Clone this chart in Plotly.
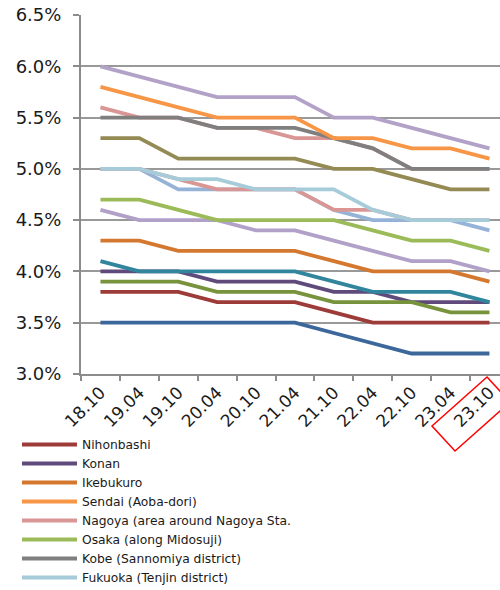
import plotly.graph_objects as go

# Survey periods (YY.MM)
periods = ["18.10", "19.04", "19.10", "20.04", "20.10", "21.04",
           "21.10", "22.04", "22.10", "23.04", "23.10"]

# Cap rates (%) by area
nihonbashi = [3.8, 3.8, 3.8, 3.7, 3.7, 3.7, 3.6, 3.5, 3.5, 3.5, 3.5]
konan      = [4.0, 4.0, 4.0, 3.9, 3.9, 3.9, 3.8, 3.8, 3.7, 3.7, 3.7]
ikebukuro  = [4.3, 4.3, 4.2, 4.2, 4.2, 4.2, 4.1, 4.0, 4.0, 4.0, 3.9]
sendai     = [5.8, 5.7, 5.6, 5.5, 5.5, 5.5, 5.3, 5.3, 5.2, 5.2, 5.1]
nagoya     = [5.6, 5.5, 5.5, 5.4, 5.4, 5.3, 5.3, 5.2, 5.0, 5.0, 5.0]
osaka      = [4.7, 4.7, 4.6, 4.5, 4.5, 4.5, 4.5, 4.4, 4.3, 4.3, 4.2]
kobe       = [5.5, 5.5, 5.5, 5.4, 5.4, 5.4, 5.3, 5.2, 5.0, 5.0, 5.0]
fukuoka    = [5.0, 5.0, 4.9, 4.9, 4.8, 4.8, 4.8, 4.6, 4.5, 4.5, 4.5]

# Further areas plotted without legend entries
area_a = [3.5, 3.5, 3.5, 3.5, 3.5, 3.5, 3.4, 3.3, 3.2, 3.2, 3.2]
area_b = [3.9, 3.9, 3.9, 3.8, 3.8, 3.8, 3.7, 3.7, 3.7, 3.6, 3.6]
area_c = [4.1, 4.0, 4.0, 4.0, 4.0, 4.0, 3.9, 3.8, 3.8, 3.8, 3.7]
area_d = [4.6, 4.5, 4.5, 4.5, 4.4, 4.4, 4.3, 4.2, 4.1, 4.1, 4.0]
area_e = [5.0, 5.0, 4.8, 4.8, 4.8, 4.8, 4.6, 4.5, 4.5, 4.5, 4.4]
area_f = [5.0, 5.0, 4.9, 4.8, 4.8, 4.8, 4.6, 4.6, 4.5, 4.5, 4.5]
area_g = [5.3, 5.3, 5.1, 5.1, 5.1, 5.1, 5.0, 5.0, 4.9, 4.8, 4.8]
area_h = [6.0, 5.9, 5.8, 5.7, 5.7, 5.7, 5.5, 5.5, 5.4, 5.3, 5.2]

# (name, values, colour, legend rank or None) in drawing order
series = [
    ("Area A", area_a, "#3b679b", None),
    ("Nihonbashi", nihonbashi, "#9c3b38", 1),
    ("Konan", konan, "#604a7b", 2),
    ("Area B", area_b, "#77933c", None),
    ("Area C", area_c, "#31859c", None),
    ("Ikebukuro", ikebukuro, "#d4782f", 3),
    ("Area D", area_d, "#b1a0c7", None),
    ("Osaka (along Midosuji)", osaka, "#9bbb59", 6),
    ("Area E", area_e, "#95b3d7", None),
    ("Area F", area_f, "#d99694", None),
    ("Fukuoka (Tenjin district)", fukuoka, "#a6ccda", 8),
    ("Area G", area_g, "#948a54", None),
    ("Nagoya (area around Nagoya Sta.", nagoya, "#d99694", 5),
    ("Kobe (Sannomiya district)", kobe, "#7f7f7f", 7),
    ("Sendai (Aoba-dori)", sendai, "#f79646", 4),
    ("Area H", area_h, "#b3a2c7", None),
]

fig = go.Figure()
for name, vals, color, rank in series:
    fig.add_trace(go.Scatter(
        x=periods, y=vals, name=name, mode="lines",
        line=dict(color=color, width=3.8),
        showlegend=rank is not None,
        legendrank=rank if rank is not None else 1000,
    ))

W, H = 500, 590
L, R, T, B = 81, 0, 15, 216
pw, ph = W - L - R, H - T - B

def px_to_paper(px, py):
    return (px - L) / pw, (H - B - py) / ph

# Highlight frame around the latest period label
corners = [(487, 377), (510, 402), (455, 451), (432, 426)]
pts = [px_to_paper(*c) for c in corners]
path = "M " + " L ".join(f"{x:.4f},{y:.4f}" for x, y in pts) + " Z"

axis_grey = "#8c8c8c"
fig.update_layout(
    width=W, height=H,
    margin=dict(l=L, r=R, t=T, b=B, autoexpand=False),
    paper_bgcolor="white", plot_bgcolor="white",
    font=dict(family="DejaVu Sans", color="#1a1a1a"),
    xaxis=dict(
        type="category", range=[-0.5, -0.5 + pw / 38.9],
        tickson="boundaries", ticks="outside", ticklen=5,
        tickcolor=axis_grey, tickwidth=1.5,
        showline=True, linecolor=axis_grey, linewidth=2,
        showgrid=False, tickangle=-45, automargin=False,
        tickfont=dict(size=17),
    ),
    yaxis=dict(
        range=[3.0, 6.5], tickvals=[3.0, 3.5, 4.0, 4.5, 5.0, 5.5, 6.0, 6.5],
        ticktext=["3.0%", "3.5%", "4.0%", "4.5%", "5.0%", "5.5%", "6.0%", "6.5%"],
        ticks="outside", ticklen=6, tickcolor=axis_grey, tickwidth=1.5,
        showline=True, linecolor=axis_grey, linewidth=2,
        showgrid=True, gridcolor="#999999", gridwidth=1.5,
        zeroline=False, tickfont=dict(size=18), ticklabelstandoff=8,
        automargin=False,
    ),
    legend=dict(
        x=px_to_paper(17, 0)[0], y=px_to_paper(0, 430)[1],
        xanchor="left", yanchor="top",
        font=dict(size=12.3, color="#1a1a1a"),
        itemwidth=55, tracegroupgap=0,
        bgcolor="rgba(0,0,0,0)",
    ),
    shapes=[dict(type="path", xref="paper", yref="paper", path=path,
                 line=dict(color="#ff0000", width=1.5))],
)

fig.write_html("out.html")
